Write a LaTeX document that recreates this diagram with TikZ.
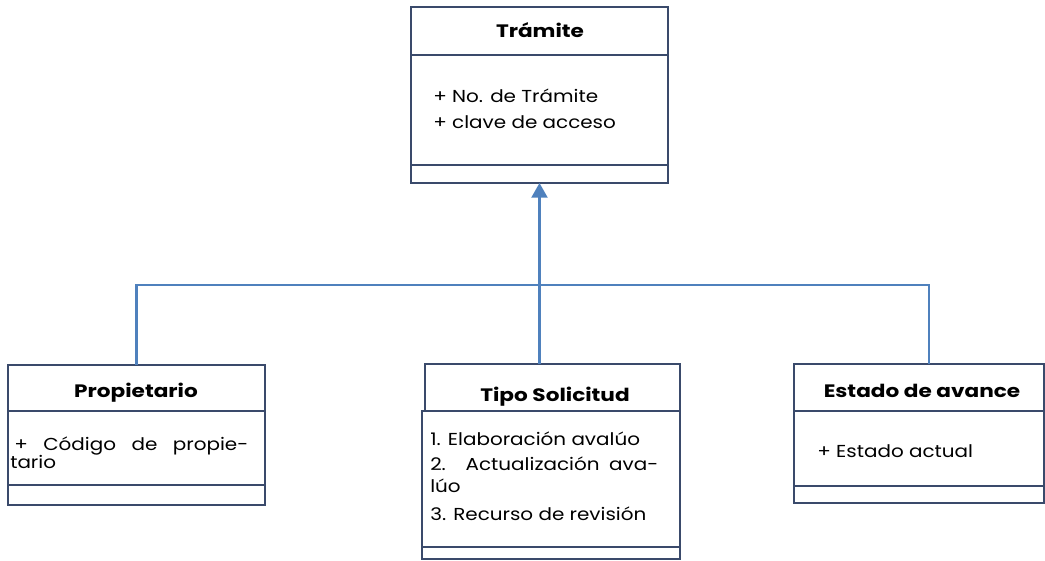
\documentclass[tikz,border=0pt]{standalone}
\usepackage{fontspec}
\setmainfont{Poppins}[FakeStretch=1.15, BoldFeatures={FakeStretch=1.2}]
\usetikzlibrary{arrows.meta}
\definecolor{boxline}{HTML}{3A4A6B}
\definecolor{linkblue}{HTML}{4F81BD}
\tikzset{
  part/.style={draw=boxline, line width=0.9pt, fill=white, anchor=north west,
    inner sep=0pt, outer sep=0pt},
  title/.style={anchor=base, inner sep=0pt, font=\fontsize{13.5}{16}\selectfont\bfseries},
  attr/.style={anchor=base west, inner sep=0pt, font=\fontsize{13}{16}\selectfont},
  link/.style={draw=linkblue, line width=1.6pt},
  inherit/.style={link, -{Triangle[width=12pt,length=11pt]}},
}
\begin{document}
\begin{tikzpicture}[x=0.75pt, y=-0.75pt]
\useasboundingbox (0,0) rectangle (1045,560);

% ---- Tramite ----
\node[part, minimum width={257*0.75pt}, minimum height={48*0.75pt}] (tram-h) at (411,7) {};
\node[part, minimum width={257*0.75pt}, minimum height={110*0.75pt}] (tram-b) at (411,55) {};
\node[part, minimum width={257*0.75pt}, minimum height={18*0.75pt}] (tram-f) at (411,165) {};
\node[title] (tram-t) at (540,38) {Trámite};
\node[attr] (tram-a1) at (433,103) {+ No. de Trámite};
\node[attr] (tram-a2) at (433,128) {+ clave de acceso};

% ---- Propietario ----
\node[part, minimum width={257*0.75pt}, minimum height={46*0.75pt}] (prop-h) at (8,365) {};
\node[part, minimum width={257*0.75pt}, minimum height={74*0.75pt}] (prop-b) at (8,411) {};
\node[part, minimum width={257*0.75pt}, minimum height={20*0.75pt}] (prop-f) at (8,485) {};
\node[title] (prop-t) at (136,397) {Propietario};
\node[attr] (prop-a1) at (14,450) {\makebox[175.5pt][s]{+ Código de propie-}};
\node[attr] (prop-a2) at (10,468) {tario};

% ---- Tipo Solicitud ----
\node[part, minimum width={255*0.75pt}, minimum height={47*0.75pt}] (tipo-h) at (425,364) {};
\node[part, minimum width={258*0.75pt}, minimum height={136*0.75pt}] (tipo-b) at (422,411) {};
\node[part, minimum width={258*0.75pt}, minimum height={12*0.75pt}] (tipo-f) at (422,547) {};
\node[title] (tipo-t) at (555,401) {Tipo Solicitud};
\node[attr] (tipo-a1) at (430,445) {1. Elaboración avalúo};
\node[attr] (tipo-a2) at (430,470) {\makebox[171pt][s]{2. Actualización ava-}};
\node[attr] (tipo-a3) at (430,492) {lúo};
\node[attr] (tipo-a4) at (430,520) {3. Recurso de revisión};

% ---- Estado de avance ----
\node[part, minimum width={250*0.75pt}, minimum height={47*0.75pt}] (est-h) at (794,364) {};
\node[part, minimum width={250*0.75pt}, minimum height={75*0.75pt}] (est-b) at (794,411) {};
\node[part, minimum width={250*0.75pt}, minimum height={17*0.75pt}] (est-f) at (794,486) {};
\node[title] (est-t) at (922,397) {Estado de avance};
\node[attr] (est-a1) at (817,457) {+ Estado actual};

% ---- generalisation links ----
\coordinate (bus-l) at (prop-h.north |- 0,285);
\coordinate (est-top) at (929,364);
\coordinate (bus-r) at (est-top |- 0,285);
\draw[link] (prop-h.north) -- (bus-l) -- (bus-r) -- (est-top);
\draw[inherit] (tipo-h.north -| tram-f.south) -- (tram-f.south);
\end{tikzpicture}
\end{document}
